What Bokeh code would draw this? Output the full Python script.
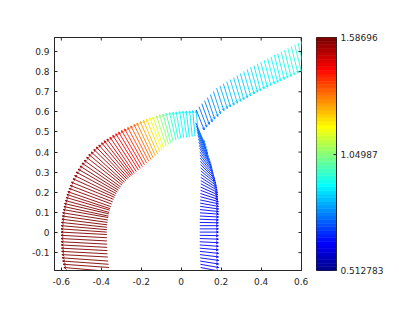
import numpy as np
from bokeh.plotting import figure
from bokeh.layouts import row
from bokeh.models import Range1d, FixedTicker
from bokeh.embed import file_html
from bokeh.resources import INLINE

# ---------------- data ----------------
CMIN, CMAX = 0.512783, 1.58696
cbar_ticks = [0.512783, 1.04987, 1.58696]
cbar_labels = ["0.512783", "1.04987", "1.58696"]
x_ticks = [-0.6, -0.4, -0.2, 0.0, 0.2, 0.4, 0.6]
x_labels = ["-0.6", "-0.4", "-0.2", "0", "0.2", "0.4", "0.6"]
y_ticks = [-0.1, 0.0, 0.1, 0.2, 0.3, 0.4, 0.5, 0.6, 0.7, 0.8, 0.9]
y_labels = ["-0.1", "0", "0.1", "0.2", "0.3", "0.4", "0.5", "0.6", "0.7", "0.8", "0.9"]
X_LIM = (-0.634, 0.602)
Y_LIM = (-0.189, 0.970)

# quiver scale (vector length per unit of magnitude)
K = 0.145

# curve A (left, red -> cyan): anchor points, direction (deg), magnitude
a_x = [-0.583, -0.587, -0.590, -0.593, -0.595, -0.597, -0.598, -0.599, -0.600, -0.600,
       -0.601, -0.601, -0.601, -0.601, -0.600, -0.599, -0.597, -0.595, -0.593, -0.590,
       -0.587, -0.584, -0.580, -0.576, -0.572, -0.567, -0.561, -0.555, -0.549, -0.541,
       -0.533, -0.525, -0.515, -0.506, -0.496, -0.485, -0.473, -0.462, -0.450, -0.437,
       -0.425, -0.412, -0.398, -0.385, -0.371, -0.356, -0.342, -0.327, -0.313, -0.298,
       -0.283, -0.267, -0.252, -0.236, -0.221, -0.205, -0.189, -0.173, -0.157, -0.141,
       -0.124, -0.108, -0.091, -0.075, -0.058, -0.041, -0.025, -0.008, 0.009, 0.025,
       0.042, 0.058, 0.075]
a_y = [-0.190, -0.174, -0.158, -0.142, -0.126, -0.110, -0.094, -0.078, -0.062, -0.046,
       -0.030, -0.014, 0.002, 0.018, 0.034, 0.050, 0.066, 0.082, 0.098, 0.114,
       0.129, 0.144, 0.159, 0.174, 0.189, 0.203, 0.219, 0.234, 0.250, 0.267,
       0.283, 0.300, 0.315, 0.330, 0.345, 0.359, 0.374, 0.388, 0.400, 0.413,
       0.425, 0.435, 0.446, 0.456, 0.465, 0.474, 0.483, 0.491, 0.499, 0.507,
       0.515, 0.522, 0.530, 0.537, 0.544, 0.551, 0.557, 0.564, 0.570, 0.575,
       0.580, 0.585, 0.589, 0.592, 0.596, 0.598, 0.600, 0.602, 0.603, 0.604,
       0.605, 0.606, 0.606]
a_ang = [-5, -5, -4, -4, -4, -3, -3, -3, -3, -3,
         -3, -3, -3, -4, -5, -6, -7, -8, -9, -10,
         -12, -13, -15, -16, -18, -19, -20, -21, -22, -24,
         -26, -28, -30, -32, -34, -36, -38, -40, -42, -44,
         -46, -48, -50, -52, -54, -56, -57, -58, -59, -60,
         -61, -62, -63, -64, -65, -66, -67, -68, -69, -71,
         -72, -73, -75, -76, -77, -79, -80, -81, -82, -83,
         -84, -85, -85]
a_c = [1.585, 1.586, 1.587, 1.587, 1.587, 1.587, 1.587, 1.586, 1.585, 1.584,
       1.583, 1.582, 1.581, 1.580, 1.579, 1.578, 1.577, 1.576, 1.575, 1.574,
       1.573, 1.572, 1.571, 1.570, 1.569, 1.568, 1.567, 1.566, 1.565, 1.564,
       1.563, 1.562, 1.560, 1.558, 1.556, 1.554, 1.552, 1.550, 1.547, 1.543,
       1.538, 1.532, 1.525, 1.517, 1.507, 1.496, 1.483, 1.468, 1.451, 1.432,
       1.410, 1.385, 1.360, 1.340, 1.310, 1.280, 1.245, 1.210, 1.175, 1.135,
       1.095, 1.055, 1.020, 0.990, 0.965, 0.943, 0.928, 0.915, 0.904, 0.894,
       0.885, 0.877, 0.870]

# curve B, upper branch (blue -> cyan)
bu_x = [0.075, 0.089, 0.103, 0.117, 0.131, 0.146, 0.161, 0.177, 0.194, 0.211,
        0.228, 0.245, 0.262, 0.279, 0.296, 0.313, 0.330, 0.347, 0.364, 0.381,
        0.398, 0.415, 0.432, 0.449, 0.466, 0.483, 0.500, 0.517, 0.534, 0.551,
        0.568, 0.585, 0.600]
bu_y = [0.610, 0.626, 0.641, 0.656, 0.671, 0.686, 0.702, 0.718, 0.729, 0.740,
        0.750, 0.761, 0.771, 0.781, 0.791, 0.801, 0.811, 0.821, 0.830, 0.839,
        0.848, 0.857, 0.866, 0.874, 0.883, 0.891, 0.899, 0.907, 0.916, 0.925,
        0.934, 0.943, 0.951]
bu_ang = [-68, -69, -70, -70, -71, -71, -72, -72, -72, -73,
          -73, -73, -73, -74, -74, -74, -74, -74, -75, -75,
          -75, -75, -75, -75, -76, -76, -76, -76, -76, -76,
          -76, -77, -77]
bu_c = [0.740, 0.750, 0.760, 0.770, 0.780, 0.790, 0.800, 0.810, 0.820, 0.830,
        0.840, 0.850, 0.855, 0.860, 0.865, 0.870, 0.875, 0.880, 0.885, 0.890,
        0.895, 0.900, 0.905, 0.910, 0.915, 0.920, 0.925, 0.930, 0.935, 0.940,
        0.945, 0.950, 0.955]

# curve B, lower branch (blue)
bl_x = [0.098, 0.097, 0.096, 0.095, 0.095, 0.094, 0.094, 0.093, 0.093, 0.093,
        0.093, 0.093, 0.093, 0.093, 0.093, 0.093, 0.093, 0.094, 0.094, 0.094,
        0.095, 0.095, 0.095, 0.096, 0.096, 0.097, 0.097, 0.098, 0.098, 0.098,
        0.098, 0.098, 0.097, 0.097, 0.096, 0.095, 0.094, 0.093, 0.092, 0.090,
        0.088, 0.086, 0.084, 0.082, 0.079, 0.076, 0.073]
bl_y = [-0.190, -0.174, -0.158, -0.142, -0.126, -0.110, -0.094, -0.078, -0.062, -0.046,
        -0.030, -0.014, 0.002, 0.018, 0.034, 0.050, 0.066, 0.082, 0.098, 0.114,
        0.130, 0.146, 0.162, 0.178, 0.194, 0.210, 0.226, 0.242, 0.258, 0.274,
        0.290, 0.306, 0.322, 0.338, 0.354, 0.370, 0.386, 0.402, 0.418, 0.434,
        0.450, 0.466, 0.482, 0.498, 0.514, 0.530, 0.546]
bl_ang = [-12, -11, -10, -9, -8, -7, -6, -5, -4, -3,
          -2, -1, 0, 0, 0, -1, -2, -3, -4, -6,
          -8, -10, -12, -15, -18, -21, -24, -27, -30, -33,
          -36, -39, -42, -45, -48, -50, -52, -54, -56, -58,
          -60, -62, -63, -64, -65, -66, -67]
bl_c = [0.640, 0.640, 0.640, 0.640, 0.640, 0.640, 0.640, 0.640, 0.640, 0.640,
        0.640, 0.640, 0.640, 0.640, 0.640, 0.640, 0.640, 0.640, 0.640, 0.640,
        0.640, 0.640, 0.640, 0.640, 0.640, 0.640, 0.645, 0.650, 0.655, 0.660,
        0.665, 0.670, 0.675, 0.680, 0.685, 0.690, 0.695, 0.700, 0.705, 0.710,
        0.715, 0.720, 0.725, 0.730, 0.735, 0.740, 0.745]


# ---------------- helpers ----------------
def jet(m=64):
    n = int(np.ceil(m / 4))
    u = np.concatenate([np.arange(1, n + 1) / n, np.ones(n - 1), np.arange(n, 0, -1) / n])
    g = int(np.ceil(n / 2)) - (1 if m % 4 == 1 else 0) + np.arange(1, len(u) + 1)
    r = g + n
    b = g - n
    g = g[g <= m]
    r = r[r <= m]
    b = b[b >= 1]
    J = np.zeros((m, 3))
    J[r - 1, 0] = u[:len(r)]
    J[g - 1, 1] = u[:len(g)]
    J[b - 1, 2] = u[len(u) - len(b):]
    return ["#%02x%02x%02x" % tuple(int(round(v * 255)) for v in rw) for rw in J]


PAL = jet(64)


def cmap(vals):
    idx = np.clip(np.floor((np.asarray(vals) - CMIN) / (CMAX - CMIN) * 64), 0, 63).astype(int)
    return [PAL[i] for i in idx]


AX = "#262626"
FONT = "DejaVu Sans"
FS = "9px"

p = figure(width=316, height=308, x_range=Range1d(*X_LIM), y_range=Range1d(*Y_LIM),
           output_backend="svg", toolbar_location=None,
           min_border_left=54, min_border_right=15, min_border_top=37, min_border_bottom=38)
p.xgrid.visible = False
p.ygrid.visible = False
p.outline_line_color = AX
p.background_fill_color = "white"


def draw(xs, ys, angs, cs, head_at_start):
    xs = np.asarray(xs, float)
    ys = np.asarray(ys, float)
    th = np.deg2rad(np.asarray(angs, float))
    L = K * np.asarray(cs, float)
    x1 = xs + L * np.cos(th)
    y1 = ys + L * np.sin(th)
    cols = cmap(cs)
    p.segment(xs, ys, x1, y1, line_color=cols, line_width=0.9)
    if head_at_start:
        hx, hy, hth = xs, ys, th
    else:
        hx, hy, hth = x1, y1, th + np.pi
    h = 0.012
    for d in (0.45, -0.45):
        p.segment(hx, hy, hx + h * np.cos(hth + d), hy + h * np.sin(hth + d),
                  line_color=cols, line_width=0.9)


draw(a_x, a_y, a_ang, a_c, True)
draw(bu_x, bu_y, bu_ang, bu_c, False)
draw(bl_x, bl_y, bl_ang, bl_c, False)


def style_axis(ax):
    ax.axis_line_color = AX
    ax.major_tick_line_color = AX
    ax.minor_tick_line_color = None
    ax.major_tick_in = 3
    ax.major_tick_out = 0
    ax.major_label_text_color = AX
    ax.major_label_text_font = FONT
    ax.major_label_text_font_size = FS


p.xaxis.ticker = FixedTicker(ticks=x_ticks)
p.xaxis.major_label_overrides = dict(zip(x_ticks, x_labels))
p.yaxis.ticker = FixedTicker(ticks=y_ticks)
p.yaxis.major_label_overrides = dict(zip(y_ticks, y_labels))
style_axis(p.xaxis[0])
style_axis(p.yaxis[0])
p.xaxis.major_label_standoff = 7
p.yaxis.major_label_standoff = 5

# inward ticks on the top and right edges of the box (MATLAB "box on")
tx = (X_LIM[1] - X_LIM[0]) / 247 * 3
ty = (Y_LIM[1] - Y_LIM[0]) / 233 * 3
p.segment(x_ticks, [Y_LIM[1]] * len(x_ticks), x_ticks, [Y_LIM[1] - ty] * len(x_ticks),
          line_color=AX, line_width=1)
p.segment([X_LIM[1]] * len(y_ticks), y_ticks, [X_LIM[1] - tx] * len(y_ticks), y_ticks,
          line_color=AX, line_width=1)

# ---------------- colorbar ----------------
cb = figure(width=76, height=308, x_range=Range1d(0, 1), y_range=Range1d(CMIN, CMAX),
            output_backend="svg", toolbar_location=None, x_axis_type=None, y_axis_location="right",
            min_border_left=0, min_border_right=56, min_border_top=37, min_border_bottom=38)
cb.xgrid.visible = False
cb.ygrid.visible = False
edges = np.linspace(CMIN, CMAX, 65)
cb.quad(left=0, right=1, bottom=edges[:-1], top=edges[1:], fill_color=PAL, line_color=PAL, line_width=0.6)
cb.outline_line_color = AX
cb.yaxis.ticker = FixedTicker(ticks=cbar_ticks)
cb.yaxis.major_label_overrides = dict(zip(cbar_ticks, cbar_labels))
style_axis(cb.yaxis[0])
cb.yaxis.major_label_standoff = 4

layout = row(p, cb)
open("out.html", "w").write(file_html(layout, INLINE))
